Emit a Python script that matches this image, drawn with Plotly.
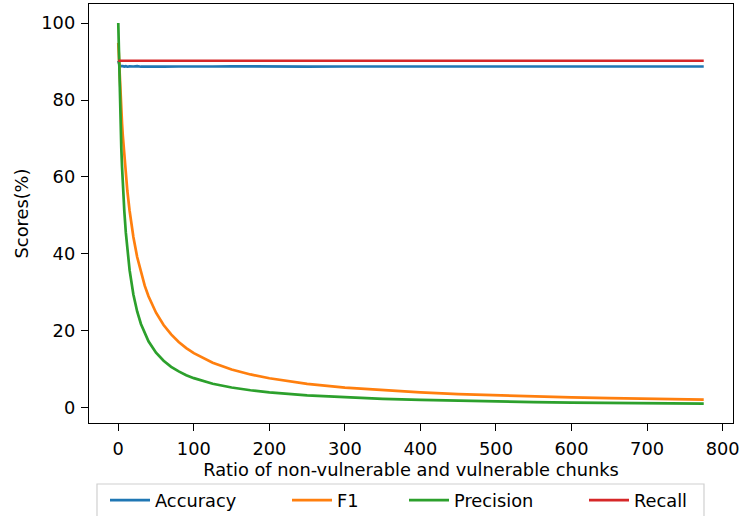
import plotly.graph_objects as go

# Data
ratio = [0, 1, 2, 3, 4, 5, 6, 8, 10, 12, 15, 20, 25, 30, 35, 40, 50, 60, 70, 80, 90, 100,
         125, 150, 175, 200, 250, 300, 350, 400, 450, 500, 550, 600, 650, 700, 750, 775]
accuracy = [90.2, 89.0, 88.9, 88.8, 88.85, 88.75, 88.8, 88.7, 88.8, 88.65, 88.75, 88.7, 88.8, 88.65,
            88.7, 88.75, 88.7, 88.65, 88.75, 88.7, 88.7, 88.65, 88.7, 88.75, 88.7, 88.7, 88.68, 88.7,
            88.7, 88.7, 88.68, 88.7, 88.7, 88.68, 88.7, 88.7, 88.7, 88.7]
f1 = [94.85, 89.75, 85.17, 81.04, 77.29, 73.87, 70.75, 65.22, 60.50, 56.41, 51.22, 44.41, 39.20,
      35.08, 31.75, 28.99, 24.71, 21.52, 19.07, 17.11, 15.52, 14.20, 11.71, 9.97, 8.67, 7.68, 6.24,
      5.26, 4.54, 4.00, 3.57, 3.23, 2.94, 2.70, 2.50, 2.33, 2.18, 2.11]
precision = [100.0, 89.31, 80.68, 73.57, 67.62, 62.55, 58.19, 51.08, 45.51, 41.04, 35.77, 29.46,
             25.04, 21.78, 19.27, 17.27, 14.31, 12.22, 10.66, 9.45, 8.49, 7.71, 6.26, 5.27, 4.56,
             4.01, 3.23, 2.71, 2.33, 2.05, 1.82, 1.64, 1.50, 1.37, 1.27, 1.18, 1.10, 1.07]
recall = [90.2] * len(ratio)

names = ["Accuracy", "F1", "Precision", "Recall"]
series = [accuracy, f1, precision, recall]
colors = ["#1f77b4", "#ff7f0e", "#2ca02c", "#d62728"]
legend_ids = ["legend", "legend2", "legend3", "legend4"]

W, H = 742, 516
L, R, T, B = 89, 9, 4, 93
pw, ph = W - L - R, H - T - B
FONT = "DejaVu Sans"
FS = 17.8

fig = go.Figure()
for n, s, c, lg in zip(names, series, colors, legend_ids):
    fig.add_trace(go.Scatter(x=ratio, y=s, mode="lines", name=n, showlegend=True,
                             line=dict(color=c, width=2.7), legend=lg))

def px2x(px):
    return (px - L) / pw

def py2y(py):
    return (H - B - py) / ph

sample_starts = [110, 292, 409, 589]
legend_top = 482
leg_common = dict(orientation="h", xanchor="left", yanchor="top", bgcolor="rgba(0,0,0,0)",
                  borderwidth=0, font=dict(family=FONT, size=FS, color="black"),
                  itemwidth=40, visible=True)
legends = {}
for lg, sx in zip(legend_ids, sample_starts):
    legends[lg] = dict(leg_common, x=px2x(sx - 5), y=py2y(legend_top))

axis_common = dict(showline=True, linecolor="black", linewidth=1.4, mirror=True,
                   ticks="outside", ticklen=7, tickwidth=1.4, tickcolor="black",
                   showgrid=False, zeroline=False,
                   tickfont=dict(family=FONT, size=FS, color="black"))

fig.update_layout(
    width=W, height=H, showlegend=True,
    margin=dict(l=L, r=R, t=T, b=B, autoexpand=False),
    paper_bgcolor="white", plot_bgcolor="white",
    font=dict(family=FONT, size=FS, color="black"),
    xaxis=dict(axis_common, range=[-38.75, 813.75], tickvals=[0, 100, 200, 300, 400, 500, 600, 700, 800],
               ticklabelstandoff=2,
               title=dict(text="Ratio of non-vulnerable and vulnerable chunks", standoff=4,
                          font=dict(family=FONT, size=FS, color="black"))),
    yaxis=dict(axis_common, range=[-3.95, 104.95], tickvals=[0, 20, 40, 60, 80, 100],
               ticklabelstandoff=2,
               title=dict(text="Scores(%)", standoff=8,
                          font=dict(family=FONT, size=FS, color="black"))),
    shapes=[dict(type="rect", xref="paper", yref="paper",
                 x0=px2x(97), x1=px2x(704), y0=py2y(484), y1=py2y(530),
                 line=dict(color="#d0d0d0", width=1.2), fillcolor="rgba(255,255,255,0.8)",
                 layer="below")],
    **legends,
)

fig.write_html("out.html", config={"displayModeBar": False},
               post_script="document.body.style.margin='0px';document.body.style.overflow='hidden';")
